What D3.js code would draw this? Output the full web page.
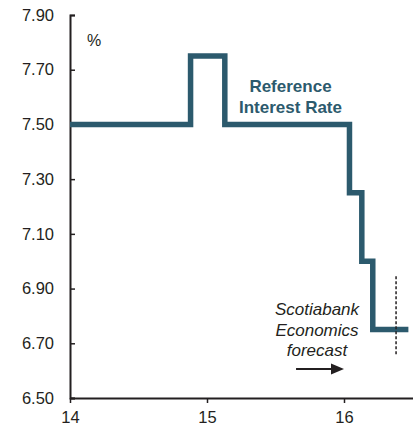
<!DOCTYPE html>
<html>
<head>
<meta charset="utf-8">
<script src="https://cdn.jsdelivr.net/npm/d3@7"></script>
<style>
  html, body { margin: 0; padding: 0; background: #fff; }
  svg { display: block; font-family: "Liberation Sans", Arial, sans-serif; }
</style>
</head>
<body>
<svg id="chart" width="419" height="429"></svg>
<script>
// Policy rate path, decimal years (14 = 2014) and level in percent
const stepDates = [14.0, 14.88, 15.13, 16.04, 16.13, 16.21, 16.47];
const stepRates = [7.50, 7.75, 7.50, 7.25, 7.00, 6.75, 6.75];
const yTicks = [6.5, 6.7, 6.9, 7.1, 7.3, 7.5, 7.7, 7.9];
const xTicks = [14, 15, 16];
const forecastStart = 16.38;

const ink = "#231f20";
const teal = "#2c5a6d";

const svg = d3.select("#chart");
const x = d3.scaleLinear().domain([14, 16.5]).range([70, 412.5]);
const y = d3.scaleLinear().domain([6.5, 7.9]).range([398, 15]);

// Axes
const yAxis = d3.axisLeft(y).tickValues(yTicks).tickFormat(d3.format(".2f"))
  .tickSizeInner(-5).tickSizeOuter(-5).tickPadding(16);
const xAxis = d3.axisBottom(x).tickValues(xTicks).tickFormat(d3.format("d"))
  .tickSizeInner(5).tickSizeOuter(0).tickPadding(8);

const gy = svg.append("g").attr("transform", `translate(${x(14)},0)`).call(yAxis);
const gx = svg.append("g").attr("transform", `translate(0,${y(6.5)})`).call(xAxis);
[gx, gy].forEach(g => {
  g.select(".domain").attr("stroke", ink).attr("stroke-width", 2);
  g.selectAll(".tick line").attr("stroke", ink).attr("stroke-width", 1.5);
  g.selectAll(".tick text").attr("fill", ink).style("font-size", "16.5px")
    .style("font-family", "'Liberation Sans', Arial, sans-serif");
});

// Rate line as a step-after path
const pts = stepDates.map((d, i) => [d, stepRates[i]]);
const line = d3.line().x(d => x(d[0])).y(d => y(d[1])).curve(d3.curveStepAfter);
svg.append("path").datum(pts)
  .attr("d", line)
  .attr("fill", "none")
  .attr("stroke", teal)
  .attr("stroke-width", 5.5)
  .attr("stroke-linejoin", "miter");

// Forecast marker
svg.append("line")
  .attr("x1", x(forecastStart)).attr("x2", x(forecastStart))
  .attr("y1", y(6.945)).attr("y2", y(6.66))
  .attr("stroke", ink).attr("stroke-width", 1.5)
  .attr("stroke-dasharray", "3,2");

// Unit label
svg.append("text").attr("x", 87).attr("y", 46)
  .attr("fill", ink).style("font-size", "16px").text("%");

// Series label
const lab = svg.append("text").attr("fill", teal)
  .attr("text-anchor", "middle").style("font-size", "17px").style("font-weight", "bold");
lab.append("tspan").attr("x", 290.5).attr("y", 92).text("Reference");
lab.append("tspan").attr("x", 290.5).attr("y", 113).text("Interest Rate");

// Forecast note
const note = svg.append("text").attr("fill", ink)
  .attr("text-anchor", "middle").style("font-size", "17px").style("font-style", "italic");
["Scotiabank", "Economics", "forecast"].forEach((t, i) => {
  note.append("tspan").attr("x", 317).attr("y", 315 + i * 20.5).text(t);
});

// Arrow pointing into the forecast period
const ay = 369;
svg.append("line")
  .attr("x1", x(15.65)).attr("x2", x(15.95))
  .attr("y1", ay).attr("y2", ay)
  .attr("stroke", ink).attr("stroke-width", 2);
const tip = x(16.0);
svg.append("path")
  .attr("d", `M${tip},${ay} L${tip - 13},${ay - 5.5} L${tip - 13},${ay + 5.5} Z`)
  .attr("fill", ink);
</script>
</body>
</html>
